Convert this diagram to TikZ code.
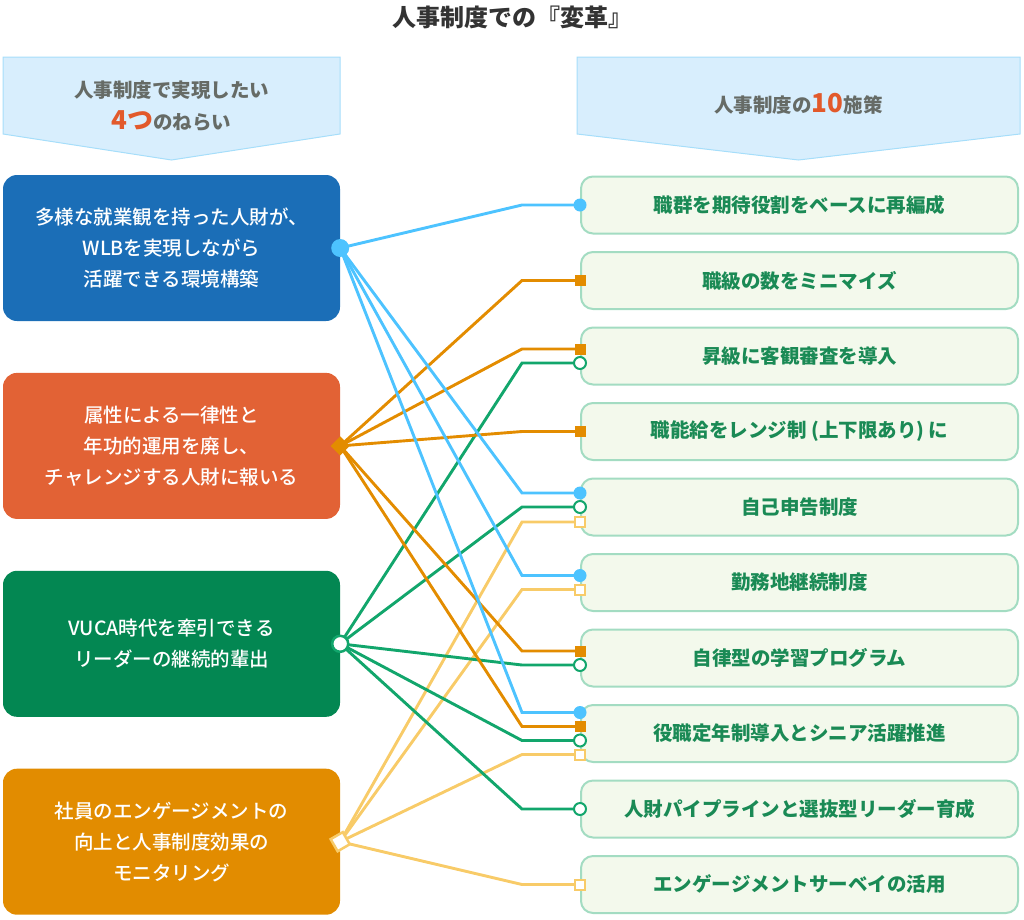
\documentclass[tikz,border=0pt]{standalone}
\usepackage{fontspec}
\setmainfont{Noto Sans CJK JP}
\newfontfamily\jpmed{Noto Sans CJK JP Medium}
\usetikzlibrary{positioning,calc}
\definecolor{aimBlue}{HTML}{1B6EB7}
\definecolor{aimRed}{HTML}{E26235}
\definecolor{aimGreen}{HTML}{038752}
\definecolor{aimOrange}{HTML}{E28C00}
\definecolor{lnBlue}{HTML}{4DC3FF}
\definecolor{lnOrange}{HTML}{E38C00}
\definecolor{lnGreen}{HTML}{12A66C}
\definecolor{lnYellow}{HTML}{F8CB68}
\definecolor{headFill}{HTML}{D8EEFD}
\definecolor{headLine}{HTML}{A6DEFA}
\definecolor{headText}{HTML}{666B66}
\definecolor{numRed}{HTML}{E2592B}
\definecolor{measFill}{HTML}{F3F9EC}
\definecolor{measLine}{HTML}{A3DCC2}
\definecolor{measText}{HTML}{1A8A55}
\definecolor{titleGray}{HTML}{333333}

\begin{document}
\begin{tikzpicture}[x=1pt, y=-1pt,
    aimbox/.style={rounded corners=14pt, minimum width=337pt, minimum height=146pt, inner sep=0pt,
                   text=white, font=\jpmed\fontsize{19.5}{31}\selectfont, align=center},
    measbox/.style={draw=measLine, line width=2pt, fill=measFill, rounded corners=12pt, inner sep=0pt,
                    minimum width=437pt, minimum height=57pt, text=measText, font=\bfseries\fontsize{19.5}{24}\selectfont},
    headtext/.style={text=headText, font=\bfseries\fontsize{19.5}{24}\selectfont},
    link/.style={line width=2.9pt},
    startB/.style={circle, fill=lnBlue, minimum size=18pt, inner sep=0pt},
    startO/.style={rectangle, rotate=45, fill=lnOrange, minimum size=13.5pt, inner sep=0pt},
    startG/.style={circle, draw=lnGreen, line width=2.5pt, fill=white, minimum size=16pt, inner sep=0pt},
    startY/.style={rectangle, rotate=30, draw=lnYellow, line width=2.5pt, fill=white, minimum size=14pt, inner sep=0pt},
    endB/.style={circle, fill=lnBlue, minimum size=13pt, inner sep=0pt},
    endO/.style={rectangle, fill=lnOrange, minimum size=11pt, inner sep=0pt},
    endG/.style={circle, draw=lnGreen, line width=2pt, fill=white, minimum size=12pt, inner sep=0pt},
    endY/.style={rectangle, draw=lnYellow, line width=2pt, fill=white, minimum size=10pt, inner sep=0pt},
]
\useasboundingbox (0,0) rectangle (1024,919);

% title and headers
\node[font=\bfseries\fontsize{24}{24}\selectfont, text=titleGray] (title) at (512,17) {人事制度での『変革』};
\draw[fill=headFill, draw=headLine, line width=1pt] (3,57) -- (340,57) -- (340,134) -- (171.5,160) -- (3,134) -- cycle;
\draw[fill=headFill, draw=headLine, line width=1pt] (577,57) -- (1020,57) -- (1020,134) -- (798.5,160) -- (577,134) -- cycle;
\node[headtext] (hdL1) at (171.5,90) {人事制度で実現したい};
\node[headtext] (hdL2) at (171.5,121) {{\color{numRed}\fontsize{26}{26}\selectfont 4つ}のねらい};
\node[headtext] (hdR) at (798.5,104) {人事制度の{\color{numRed}\fontsize{26}{26}\selectfont 10}施策};

% four aims
\node[aimbox, fill=aimBlue] (a1) at (171.5,248) {多様な就業観を持った人財が、\\WLBを実現しながら\\活躍できる環境構築};
\node[aimbox, fill=aimRed, below=51.5pt of a1] (a2) {属性による一律性と\\年功的運用を廃し、\\チャレンジする人財に報いる};
\node[aimbox, fill=aimGreen, below=51.5pt of a2] (a3) {VUCA時代を牽引できる\\リーダーの継続的輩出};
\node[aimbox, fill=aimOrange, below=51.5pt of a3] (a4) {社員のエンゲージメントの\\向上と人事制度効果の\\モニタリング};

% ten measures
\node[measbox] (m1) at (799.5,205) {職群を期待役割をベースに再編成};
\node[measbox, below=16.5pt of m1] (m2) {職級の数をミニマイズ};
\node[measbox, below=16.5pt of m2] (m3) {昇級に客観審査を導入};
\node[measbox, below=16.5pt of m3] (m4) {職能給をレンジ制 (上下限あり) に};
\node[measbox, below=16.5pt of m4] (m5) {自己申告制度};
\node[measbox, below=16.5pt of m5] (m6) {勤務地継続制度};
\node[measbox, below=16.5pt of m6] (m7) {自律型の学習プログラム};
\node[measbox, below=16.5pt of m7] (m8) {役職定年制導入とシニア活躍推進};
\node[measbox, below=16.5pt of m8] (m9) {人財パイプラインと選抜型リーダー育成};
\node[measbox, below=16.5pt of m9] (m10) {エンゲージメントサーベイの活用};

% yellow links
\draw[link, lnYellow] (a4.east) -- ($(m5.west)+(-58,15)$) -- ($(m5.west)+(0,15)$) node[endY] {};
\draw[link, lnYellow] (a4.east) -- ($(m6.west)+(-58,7)$) -- ($(m6.west)+(0,7)$) node[endY] {};
\draw[link, lnYellow] (a4.east) -- ($(m8.west)+(-58,21)$) -- ($(m8.west)+(0,21)$) node[endY] {};
\draw[link, lnYellow] (a4.east) -- ($(m10.west)+(-58,0)$) -- (m10.west) node[endY] {};

% green links
\draw[link, lnGreen] (a3.east) -- ($(m3.west)+(-58,7)$) -- ($(m3.west)+(0,7)$) node[endG] {};
\draw[link, lnGreen] (a3.east) -- ($(m5.west)+(-58,0)$) -- (m5.west) node[endG] {};
\draw[link, lnGreen] (a3.east) -- ($(m7.west)+(-58,7)$) -- ($(m7.west)+(0,7)$) node[endG] {};
\draw[link, lnGreen] (a3.east) -- ($(m8.west)+(-58,7)$) -- ($(m8.west)+(0,7)$) node[endG] {};
\draw[link, lnGreen] (a3.east) -- ($(m9.west)+(-58,0)$) -- (m9.west) node[endG] {};

% orange links
\draw[link, lnOrange] (a2.east) -- ($(m2.west)+(-58,0)$) -- (m2.west) node[endO] {};
\draw[link, lnOrange] (a2.east) -- ($(m3.west)+(-58,-7)$) -- ($(m3.west)+(0,-7)$) node[endO] {};
\draw[link, lnOrange] (a2.east) -- ($(m4.west)+(-58,0)$) -- (m4.west) node[endO] {};
\draw[link, lnOrange] (a2.east) -- ($(m7.west)+(-58,-7)$) -- ($(m7.west)+(0,-7)$) node[endO] {};
\draw[link, lnOrange] (a2.east) -- ($(m8.west)+(-58,-7)$) -- ($(m8.west)+(0,-7)$) node[endO] {};

% blue links
\draw[link, lnBlue] (a1.east) -- ($(m1.west)+(-58,0)$) -- (m1.west) node[endB] {};
\draw[link, lnBlue] (a1.east) -- ($(m5.west)+(-58,-14)$) -- ($(m5.west)+(0,-14)$) node[endB] {};
\draw[link, lnBlue] (a1.east) -- ($(m6.west)+(-58,-7)$) -- ($(m6.west)+(0,-7)$) node[endB] {};
\draw[link, lnBlue] (a1.east) -- ($(m8.west)+(-58,-21)$) -- ($(m8.west)+(0,-21)$) node[endB] {};

% start markers
\node[startB] (s1) at (a1.east) {};
\node[startO] (s2) at (a2.east) {};
\node[startG] (s3) at (a3.east) {};
\node[startY] (s4) at (a4.east) {};
\end{tikzpicture}
\end{document}
